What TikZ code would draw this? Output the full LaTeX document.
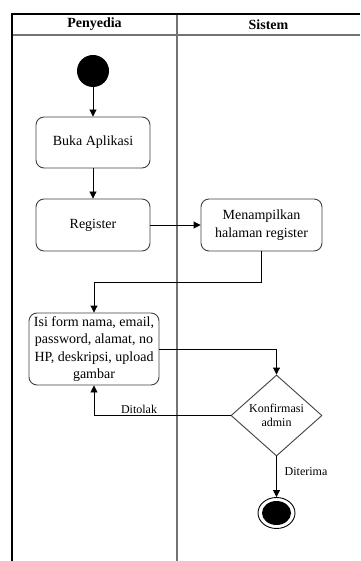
\documentclass[tikz,border=0pt]{standalone}
\usepackage{fontspec}
\setmainfont{Liberation Serif}
\usetikzlibrary{arrows.meta,shapes.geometric}
\begin{document}
\begin{tikzpicture}[x=1pt,y=-1pt,
  act/.style={draw=black!75, rounded corners=8pt, line width=0.9pt, align=center,
    font=\fontsize{14}{17.6}\selectfont, inner sep=0pt},
  flow/.style={draw=black, line width=0.9pt, -{Triangle[length=7pt,width=7pt]}},
  lbl/.style={font=\fontsize{12}{14}\selectfont, inner sep=1pt},
  head/.style={font=\bfseries\fontsize{14}{16}\selectfont},
  lane/.style={draw=black!55, line width=1.3pt}]
\useasboundingbox (0,0) rectangle (360,561);
% swimlanes
\draw[lane] (12,35) -- (360,35);
\draw[lane] (177,14) -- (177,561);
\draw[line width=1.3pt] (360,14) -- (12,14) -- (12,561);
\node[head] (h1) at (94.5,24.5) {Penyedia};
\node[head] (h2) at (268.5,24.5) {Sistem};
% nodes
\node[circle, fill=black, minimum size=32pt, inner sep=0pt] (start) at (93,71) {};
\node[act, minimum width=114pt, minimum height=51pt] (buka) at (93,142.5) {Buka Aplikasi};
\node[act, minimum width=114pt, minimum height=52pt] (register) at (93,225) {Register};
\node[act, minimum width=121pt, minimum height=52pt] (tampil) at (261.5,225) {Menampilkan\\halaman register};
\node[act, minimum width=130pt, minimum height=72pt] (isi) at (94,349) {Isi form nama, email,\\password, alamat, no\\HP, deskripsi, upload\\gambar};
\node[diamond, draw=black!75, line width=0.9pt, inner sep=0pt, minimum width=91pt, minimum height=81pt,
  align=center, font=\fontsize{12}{14}\selectfont] (dec) at (276.5,415.5) {Konfirmasi\\admin};
\node[ellipse, draw=black, line width=0.9pt, minimum width=37pt, minimum height=31pt, inner sep=0pt] (end) at (276.5,513) {};
\node[ellipse, fill=black, minimum width=29pt, minimum height=24pt, inner sep=0pt] (endin) at (end) {};
% connectors
\draw[flow] (start) -- (buka);
\draw[flow] (buka) -- (register);
\draw[flow] (register) -- (tampil);
\draw[flow] (tampil.south) -- ++(0,31) -| (isi.north);
\draw[flow] (isi.east) -| (dec.north);
\draw[flow] (dec.west) -| (isi.south);
\node[lbl] (ditolak) at (139,409) {Ditolak};
\draw[flow] (dec.south) -- (end);
\node[lbl] (diterima) at (306,472) {Diterima};
\end{tikzpicture}
\end{document}
